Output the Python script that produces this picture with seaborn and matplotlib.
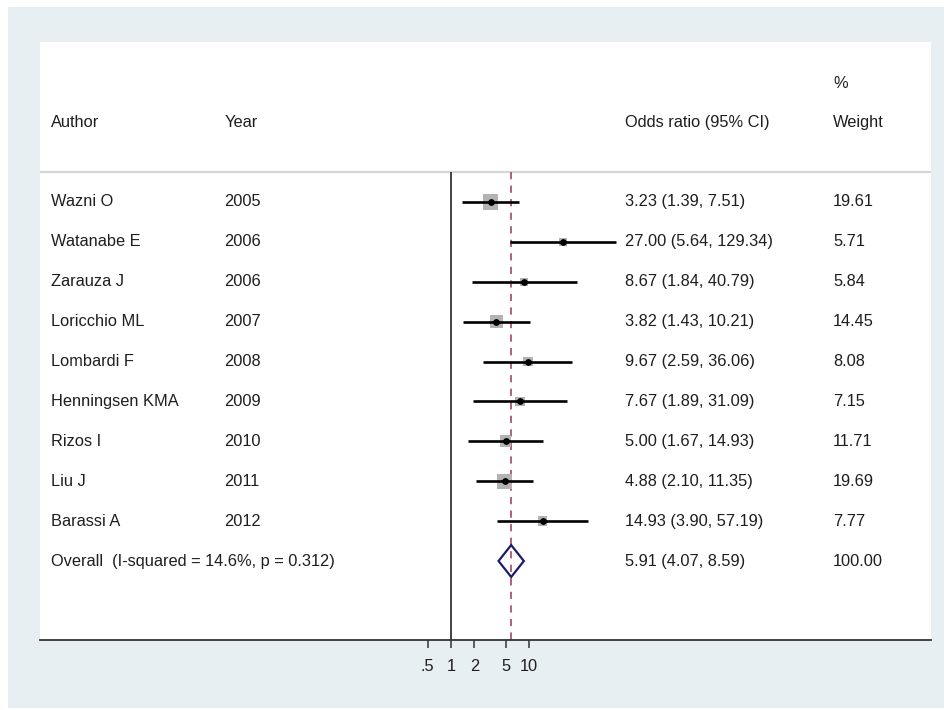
import numpy as np
import pandas as pd
import seaborn as sns
import matplotlib.pyplot as plt
from matplotlib.patches import Rectangle, Polygon
from matplotlib.transforms import blended_transform_factory

# study data
authors = ["Wazni O", "Watanabe E", "Zarauza J", "Loricchio ML", "Lombardi F",
           "Henningsen KMA", "Rizos I", "Liu J", "Barassi A"]
years = [2005, 2006, 2006, 2007, 2008, 2009, 2010, 2011, 2012]
odds = [3.23, 27.00, 8.67, 3.82, 9.67, 7.67, 5.00, 4.88, 14.93]
ci_low = [1.39, 5.64, 1.84, 1.43, 2.59, 1.89, 1.67, 2.10, 3.90]
ci_high = [7.51, 129.34, 40.79, 10.21, 36.06, 31.09, 14.93, 11.35, 57.19]
weights = [19.61, 5.71, 5.84, 14.45, 8.08, 7.15, 11.71, 19.69, 7.77]

overall_or = 5.91
overall_low = 4.07
overall_high = 8.59
overall_wt = "100.00"
i_squared = 14.6
p_het = 0.312

tick_vals = [0.5, 1, 2, 5, 10]
tick_labels = [".5", "1", "2", "5", "10"]

sns.set_style("white")
plt.rcParams["font.family"] = ["Liberation Sans", "DejaVu Sans"]

df = pd.DataFrame({"author": authors, "year": years, "odds": odds,
                   "lo": ci_low, "hi": ci_high, "weight": weights})
df["row"] = np.arange(len(df))
overall_row = len(df)

W, H = 944, 710
fig = plt.figure(figsize=(W / 100, H / 100), dpi=100, facecolor="white")
bg = "#e8eff2"
fig.patches.append(Rectangle((8 / W, 2 / H), 1, 1 - 9 / H, transform=fig.transFigure,
                             facecolor=bg, edgecolor="none", zorder=-10))

ax = fig.add_axes([40 / W, (H - 640) / H, (931 - 40) / W, (640 - 42) / H])
ax.set_zorder(1)
ax.set_facecolor("white")
ax.set_xscale("log")
ax.set_xlim(10 ** (-411 / 78), 10 ** (480 / 78))
ax.set_ylim(10.98, -4.01)

txt = "#1e1e1e"
fs = 11.8

# header separator, null line and overall line
ax.axhline(-0.75, color="#d3d7d9", lw=1.6)
ax.vlines(1, -0.75, 10.98, color="#333333", lw=1.3)
ax.vlines(overall_or, -0.75, 10.98, color="#a8566e", lw=1.3, linestyles=(0, (4, 3.5)))

# confidence intervals
ax.hlines(df["row"], df["lo"], df["hi"], color="black", lw=1.9, zorder=3)

# weight boxes, area proportional to weight
k = 6.2
sns.scatterplot(data=df, x="odds", y="row", size="weight",
                sizes=(k * min(weights), k * max(weights)), marker="s",
                color="#b3b3b3", linewidth=0, legend=False, ax=ax, zorder=2)
sns.scatterplot(data=df, x="odds", y="row", color="black", s=24,
                linewidth=0, legend=False, ax=ax, zorder=4)

# overall diamond
dh = 0.4
diamond = Polygon([(overall_low, overall_row), (overall_or, overall_row - dh),
                   (overall_high, overall_row), (overall_or, overall_row + dh)],
                  closed=True, facecolor="none", edgecolor="#1c1c6b", lw=1.6, zorder=5)
ax.add_patch(diamond)

# text columns
tr = blended_transform_factory(ax.transAxes, ax.transData)
x_author, x_year, x_or, x_wt = 0.0123, 0.207, 0.6565, 0.890

def put(x, y, s):
    ax.text(x, y, s, transform=tr, fontsize=fs, color=txt, va="center")

put(x_author, -2.0, "Author")
put(x_year, -2.0, "Year")
put(x_or, -2.0, "Odds ratio (95% CI)")
put(x_wt, -2.0, "Weight")
put(x_wt, -2.97, "%")

for _, r in df.iterrows():
    put(x_author, r["row"], r["author"])
    put(x_year, r["row"], str(r["year"]))
    put(x_or, r["row"], f"{r['odds']:.2f} ({r['lo']:.2f}, {r['hi']:.2f})")
    put(x_wt, r["row"], f"{r['weight']:.2f}")

put(x_author, overall_row, f"Overall  (I-squared = {i_squared}%, p = {p_het})")
put(x_or, overall_row, f"{overall_or:.2f} ({overall_low:.2f}, {overall_high:.2f})")
put(x_wt, overall_row, overall_wt)

# axes styling
for s in ["top", "left", "right"]:
    ax.spines[s].set_visible(False)
ax.spines["bottom"].set_color("#333333")
ax.spines["bottom"].set_linewidth(1.3)
ax.set_yticks([])
ax.set_xticks(tick_vals)
ax.set_xticklabels(tick_labels)
ax.xaxis.set_minor_locator(plt.NullLocator())
ax.tick_params(axis="x", length=5.5, width=1.1, color="#333333", labelsize=fs,
               labelcolor=txt, pad=8, bottom=True)
ax.set_xlabel("")
ax.set_ylabel("")

fig.savefig("out.png", dpi=100, facecolor=fig.get_facecolor())
